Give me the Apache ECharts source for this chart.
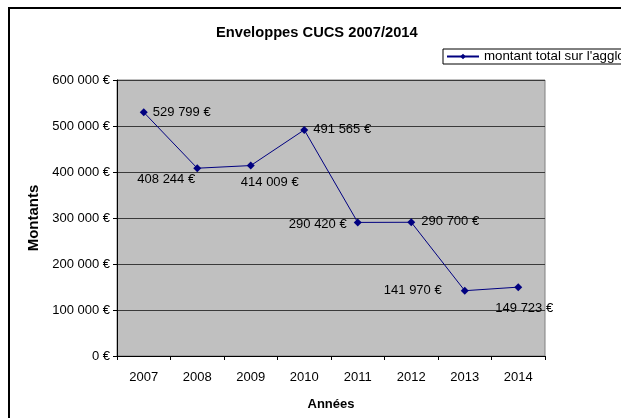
<!DOCTYPE html>
<html>
<head>
<meta charset="utf-8">
<script src="https://cdn.jsdelivr.net/npm/echarts@6/dist/echarts.min.js"></script>
<style>
  html, body { margin: 0; padding: 0; background: #fff; }
  #chart { width: 621px; height: 418px; }
</style>
</head>
<body>
<div id="chart"></div>
<script>
var years = ['2007', '2008', '2009', '2010', '2011', '2012', '2013', '2014'];
var montants = [529799, 408244, 414009, 491565, 290420, 290700, 141970, 149723];
var seriesName = "montant total sur l'agglo";

// décalage des étiquettes (centre du texte par rapport au point)
var labelOffsets = [[38, 0], [-31, 11], [19, 17], [38, 0], [-40, 2], [39, -1], [-52, 0], [6, 21]];

var font = "'Liberation Sans', Arial, sans-serif";

function euros(v) {
  return String(v).replace(/\B(?=(\d{3})+(?!\d))/g, ' ') + ' €';
}

var chartDom = document.getElementById('chart');
var myChart = echarts.init(chartDom);

var option = {
  animation: false,
  textStyle: { fontFamily: font },
  title: {
    text: 'Enveloppes CUCS 2007/2014',
    left: 216,
    top: 25,
    padding: 0,
    textStyle: { fontFamily: font, fontSize: 14.7, fontWeight: 'bold', color: '#000' }
  },
  graphic: [
    {
      type: 'rect',
      z: -10,
      shape: { x: 9, y: 8, width: 700, height: 500 },
      style: { fill: 'none', stroke: '#000', lineWidth: 2 }
    }
  ],
  legend: {
    left: 443,
    top: 49,
    padding: [1, 40, 1, 3],
    backgroundColor: '#fff',
    borderColor: '#000',
    borderWidth: 1,
    borderRadius: 0,
    itemWidth: 32,
    itemHeight: 7,
    itemGap: 4,
    textStyle: { fontFamily: font, fontSize: 13.3, color: '#000' },
    data: [seriesName]
  },
  grid: {
    left: 117,
    right: 76,
    top: 80,
    bottom: 62,
    show: true,
    backgroundColor: '#c0c0c0',
    borderColor: '#808080',
    borderWidth: 1
  },
  xAxis: {
    type: 'category',
    data: years,
    name: 'Années',
    nameLocation: 'middle',
    nameGap: 42,
    nameTextStyle: { fontFamily: font, fontSize: 13, fontWeight: 'bold', color: '#000' },
    axisLine: { lineStyle: { color: '#000', width: 1 } },
    axisTick: { show: true, interval: 0, length: 4, lineStyle: { color: '#000' } },
    axisLabel: { fontFamily: font, fontSize: 13, color: '#000', margin: 15, interval: 0 }
  },
  yAxis: {
    type: 'value',
    min: 0,
    max: 600000,
    interval: 100000,
    name: 'Montants',
    nameLocation: 'middle',
    nameGap: 74,
    nameTextStyle: { fontFamily: font, fontSize: 15, fontWeight: 'bold', color: '#000' },
    axisLine: { show: true, lineStyle: { color: '#000', width: 1 } },
    axisTick: { show: true, length: 4, lineStyle: { color: '#000' } },
    axisLabel: { fontFamily: font, fontSize: 13, color: '#000', margin: 7, formatter: euros },
    splitLine: { show: true, lineStyle: { color: '#3a3a3a', width: 1 } }
  },
  series: [
    {
      name: seriesName,
      type: 'line',
      symbol: 'diamond',
      symbolSize: 8,
      color: '#000080',
      lineStyle: { color: '#000080', width: 1 },
      itemStyle: { color: '#000080' },
      data: montants.map(function (v, i) {
        return {
          value: v,
          label: { offset: labelOffsets[i] }
        };
      }),
      label: {
        show: true,
        position: 'inside',
        align: 'center',
        verticalAlign: 'middle',
        fontFamily: font,
        fontSize: 13,
        color: '#000',
        formatter: function (p) { return euros(p.value); }
      }
    }
  ]
};

option && myChart.setOption(option);
</script>
</body>
</html>
